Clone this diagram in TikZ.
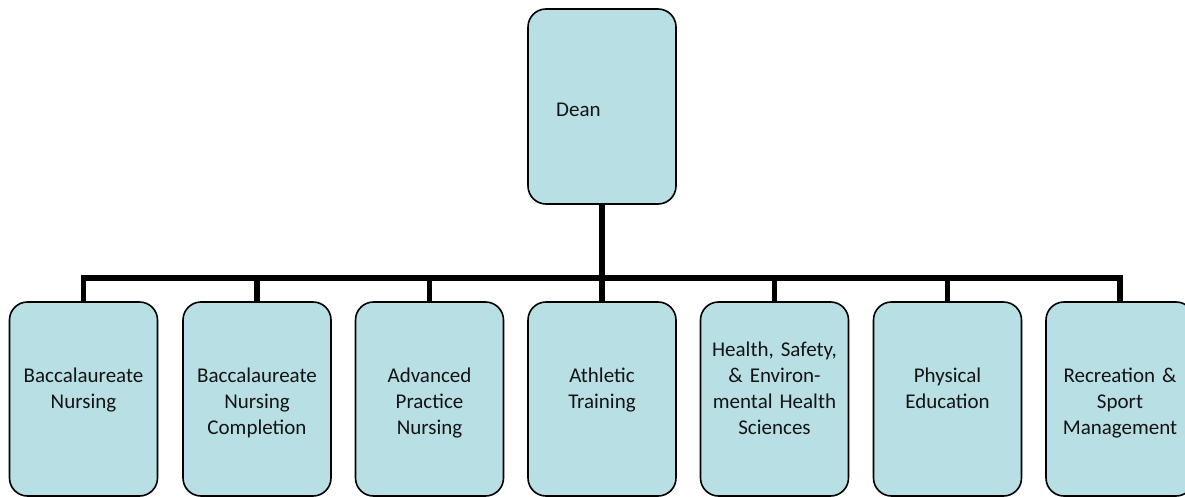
\documentclass[tikz,border=0pt]{standalone}
\usepackage{fontspec}
\setmainfont{Carlito}
\usetikzlibrary{calc}
\definecolor{boxfill}{HTML}{B8DFE4}
\pgfdeclarelayer{bg}
\pgfsetlayers{bg,main}
\tikzset{
  unitbox/.style={draw=black, fill=boxfill, line width=1.6pt, rounded corners=18pt,
    minimum width=148pt, minimum height=194pt, inner sep=0pt},
  lbl/.style={text width=150pt, align=center, inner sep=0pt,
    font=\fontsize{21}{26}\selectfont, text=black!92},
  conn/.style={line width=5.6pt, line join=miter, draw=black}
}
\begin{document}
\begin{tikzpicture}[x=1pt,y=-1pt]
\clip (0,0) rectangle (1185,497);
% boxes
\path
  (602,106.5) node[unitbox, minimum height=195pt] (dean) {}
  (83.5,399)  node[unitbox] (b1) {}
  (257,399)   node[unitbox] (b2) {}
  (429.5,399) node[unitbox] (b3) {}
  (602,399)   node[unitbox] (b4) {}
  (774.5,399) node[unitbox] (b5) {}
  (947.5,399) node[unitbox] (b6) {}
  (1120,399)  node[unitbox] (b7) {};
\coordinate (bar) at (0,278);
% connectors, behind the boxes
\begin{pgfonlayer}{bg}
\draw[conn] (b1.north) -- (b1.north |- bar) -- (b7.north |- bar) -- (b7.north);
\foreach \b in {b2,b3,b4,b5,b6}{
  \draw[conn] (\b.north) -- (\b.north |- bar);
}
\draw[conn] (dean.south) -- (dean.south |- bar);
\end{pgfonlayer}
% texts
\node[font=\fontsize{21}{26}\selectfont, inner sep=0pt, anchor=base west, text=black!92] (tdean) at (556,117) {Dean};
\node[lbl, anchor=base] (t1) at ($(b1.north)+(0,81)$) {Baccalaureate\\Nursing};
\node[lbl, anchor=base] (t2) at ($(b2.north)+(0,81)$) {Baccalaureate\\Nursing\\Completion};
\node[lbl, anchor=base] (t3) at ($(b3.north)+(0,81)$) {Advanced\\Practice\\Nursing};
\node[lbl, anchor=base] (t4) at ($(b4.north)+(0,81)$) {Athletic\\Training};
\node[lbl, anchor=base] (t5) at ($(b5.north)+(0,55)$) {Health, Safety,\\\& Environ-\\mental Health\\Sciences};
\node[lbl, anchor=base] (t6) at ($(b6.north)+(0,81)$) {Physical\\Education};
\node[lbl, anchor=base] (t7) at ($(b7.north)+(0,81)$) {Recreation \&\\Sport\\Management};
\end{tikzpicture}
\end{document}
